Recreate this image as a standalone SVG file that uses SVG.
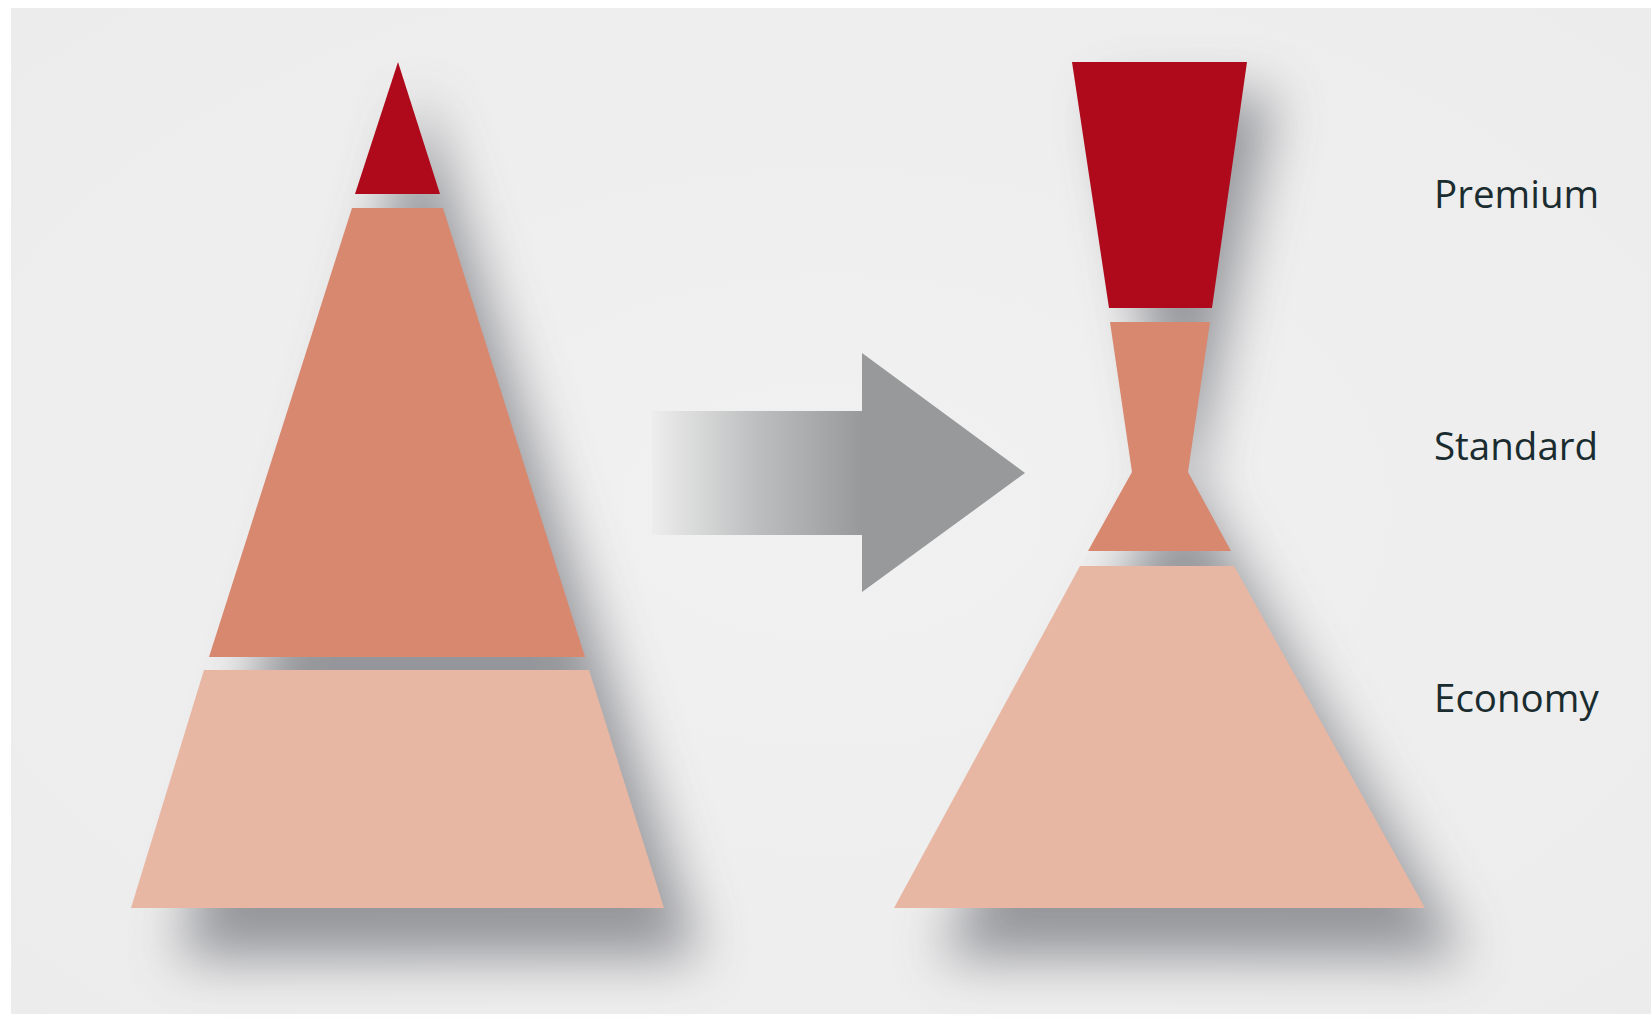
<svg xmlns="http://www.w3.org/2000/svg" width="1651" height="1018" viewBox="0 0 1651 1018">
  <style>
    .prem { fill: #ae0a1c; }
    .std { fill: #d8886f; }
    .eco { fill: #e8b7a3; }
    .label { font-family: "Open Sans", "Noto Sans", "Liberation Sans", sans-serif; font-size: 38.5px; fill: #1a2c2f; }
    .shadow { fill: #5e6068; opacity: 0.62; filter: url(#blur); }
  </style>
  <defs>
    <filter id="blur" x="-40%" y="-40%" width="180%" height="180%">
      <feGaussianBlur stdDeviation="27"/>
    </filter>
    <linearGradient id="arrowGrad" gradientUnits="userSpaceOnUse" x1="652" y1="0" x2="862" y2="0">
      <stop offset="0" stop-color="#ededed"/>
      <stop offset="0.5" stop-color="#bdbebf"/>
      <stop offset="1" stop-color="#97999a"/>
    </linearGradient>
    <radialGradient id="bg" cx="0.5" cy="0.5" r="0.7">
      <stop offset="0" stop-color="#f1f1f1"/>
      <stop offset="1" stop-color="#ececec"/>
    </radialGradient>
  </defs>

  <rect x="0" y="0" width="1651" height="1018" fill="#ffffff"/>
  <rect x="11" y="8" width="1640" height="1006" fill="url(#bg)"/>

  <!-- shadows -->
  <g id="shadows">
    <polygon class="shadow" points="420,95 700,958 178,958"/>
    <polygon class="shadow" points="1104,95 1274,95 1192,485 1465,958 940,958 1172,485"/>
  </g>

  <g id="left-pyramid">
    <g id="left-premium"><polygon class="prem" points="398,62 440,194 355,194"/></g>
    <g id="left-standard"><polygon class="std" points="352,208 443,208 585,657 209,657"/></g>
    <g id="left-economy"><polygon class="eco" points="204,670 589,670 664,908 131,908"/></g>
  </g>

  <g id="connectors">
    <path d="M652,411 L862,411 L862,353 L1025,473 L862,592 L862,535 L652,535 Z" fill="url(#arrowGrad)"/>
  </g>

  <g id="right-shape">
    <g id="right-premium"><polygon class="prem" points="1072,62 1247,62 1212,308 1109,308"/></g>
    <g id="right-standard"><polygon class="std" points="1110,322 1210,322 1188,472 1231,551 1088,551 1132,472"/></g>
    <g id="right-economy"><polygon class="eco" points="1080,566 1234,566 1425,908 894,908"/></g>
  </g>

  <g id="labels">
    <text class="label" x="1434" y="208">Premium</text>
    <text class="label" x="1434" y="460">Standard</text>
    <text class="label" x="1434" y="712">Economy</text>
  </g>
</svg>
